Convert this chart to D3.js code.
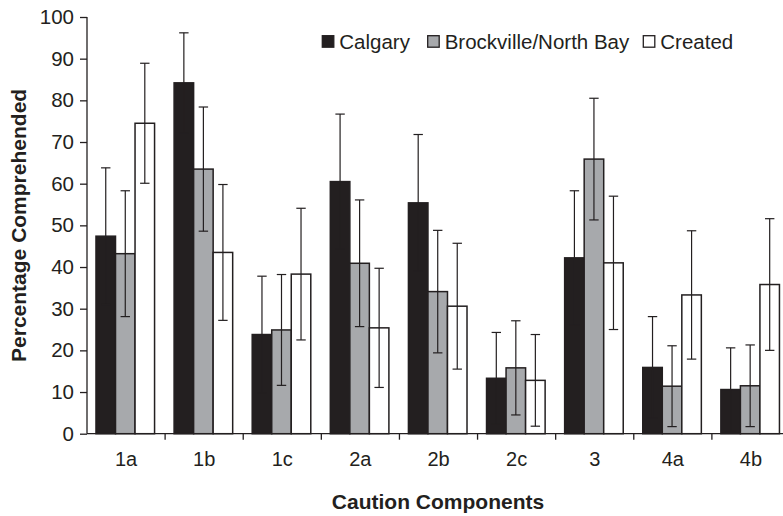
<!DOCTYPE html>
<html><head><meta charset="utf-8">
<script src="https://cdn.jsdelivr.net/npm/d3@7"></script>
<style>body{margin:0;background:#fff}svg{display:block;font-family:"Liberation Sans",Arial,sans-serif}</style>
</head><body><svg id="c" width="783" height="516"></svg>
<script>
const categories = ["1a","1b","1c","2a","2b","2c","3","4a","4b"];
const seriesNames = ["Calgary","Brockville/North Bay","Created"];
const calgary = [47.4, 84.2, 23.8, 60.5, 55.4, 13.3, 42.2, 15.9, 10.6];
const calgaryErr = [16.4, 12.0, 14.0, 16.2, 16.4, 11.0, 16.1, 12.2, 10.0];
const brockville = [43.2, 63.5, 24.9, 40.9, 34.1, 15.8, 65.9, 11.4, 11.5];
const brockvilleErr = [15.1, 14.9, 13.3, 15.2, 14.7, 11.3, 14.6, 9.7, 9.8];
const created = [74.5, 43.5, 38.3, 25.4, 30.6, 12.8, 41.0, 33.3, 35.8];
const createdErr = [14.4, 16.3, 15.8, 14.3, 15.1, 11.0, 16.0, 15.4, 15.8];
const yTicks = [0,10,20,30,40,50,60,70,80,90,100];

const ink = "#231f20";
const fills = ["#231f20","#a7a9ac","#ffffff"];
const values = [calgary, brockville, created];
const errs = [calgaryErr, brockvilleErr, createdErr];

const svg = d3.select("#c");
const x0 = d3.scaleBand().domain(categories).range([87, 790]).paddingInner(0).paddingOuter(0);
const bw = x0.bandwidth();
const x1 = d3.scaleBand().domain(seriesNames).range([bw*0.115, bw*0.865]).padding(0);
const y = d3.scaleLinear().domain([0,100]).range([433.7, 17]);

// bars
seriesNames.forEach((s, si) => {
  const g = svg.append("g");
  g.selectAll("rect").data(categories).join("rect")
    .attr("x", c => x0(c) + x1(s))
    .attr("y", (c,i) => y(values[si][i]))
    .attr("width", x1.bandwidth())
    .attr("height", (c,i) => y(0) - y(values[si][i]))
    .attr("fill", fills[si]).attr("stroke", ink).attr("stroke-width", 1.5);
});
// error bars
seriesNames.forEach((s, si) => {
  const g = svg.append("g").attr("stroke", ink).attr("stroke-width", 1.2);
  categories.forEach((c, i) => {
    const cx = x0(c) + x1(s) + x1.bandwidth()/2;
    const hi = y(values[si][i] + errs[si][i]);
    const lo = y(values[si][i] - errs[si][i]);
    g.append("line").attr("x1", cx).attr("x2", cx).attr("y1", hi).attr("y2", lo);
    g.append("line").attr("x1", cx-4.7).attr("x2", cx+4.7).attr("y1", hi).attr("y2", hi);
    g.append("line").attr("x1", cx-4.7).attr("x2", cx+4.7).attr("y1", lo).attr("y2", lo);
  });
});

// y axis
const ya = svg.append("g").attr("transform","translate(87,0)")
  .call(d3.axisLeft(y).tickValues(yTicks).tickSize(7).tickPadding(6));
ya.select(".domain").attr("stroke", ink).attr("stroke-width",1.3).attr("d", `M0,${y(100)}V${y(0)}`);
ya.selectAll(".tick line").attr("stroke", ink).attr("stroke-width",1.3);
ya.selectAll(".tick text").attr("fill", ink).style("font-size","20.5px").style("font-family","Liberation Sans, Arial, sans-serif");

// x axis
const xa = svg.append("g").attr("transform",`translate(0,${y(0)})`);
xa.append("line").attr("x1",87).attr("x2",790).attr("y1",0).attr("y2",0).attr("stroke",ink).attr("stroke-width",1.3);
categories.forEach(c => {
  xa.append("line").attr("x1", x0(c)+bw).attr("x2", x0(c)+bw).attr("y1",0).attr("y2",6).attr("stroke",ink).attr("stroke-width",1.3);
  xa.append("text").attr("x", x0(c)+bw/2).attr("y", 32).attr("text-anchor","middle")
    .attr("fill", ink).style("font-size","20px").text(c);
});

// axis titles
svg.append("text").attr("x", 438).attr("y", 509).attr("text-anchor","middle")
  .attr("fill", ink).style("font-size","21px").style("font-weight","bold").text("Caution Components");
svg.append("text").attr("transform","translate(26,225.4) rotate(-90)").attr("text-anchor","middle")
  .attr("fill", ink).style("font-size","21px").style("font-weight","bold").text("Percentage Comprehended");

// legend
const legendX = [322.3, 427.7, 643.3];
seriesNames.forEach((s, si) => {
  svg.append("rect").attr("x", legendX[si]).attr("y", 35.7).attr("width", 11.5).attr("height", 11.5)
    .attr("fill", fills[si]).attr("stroke", ink).attr("stroke-width", 1.3);
  svg.append("text").attr("x", legendX[si] + 17).attr("y", 48.5).attr("fill", ink)
    .style("font-size","20.5px").text(s);
});
</script></body></html>
